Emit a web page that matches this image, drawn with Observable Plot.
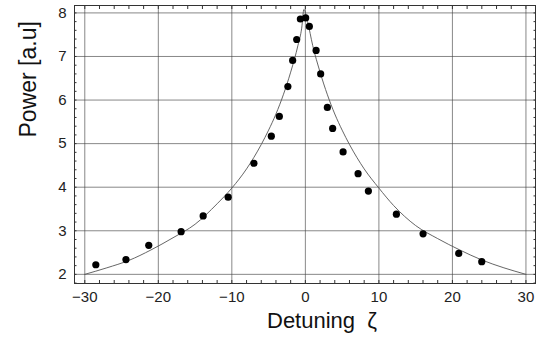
<!DOCTYPE html>
<html>
<head>
<meta charset="utf-8">
<script src="https://cdn.jsdelivr.net/npm/d3@7"></script>
<script src="https://cdn.jsdelivr.net/npm/@observablehq/plot@0.6"></script>
<style>
  html, body { margin: 0; padding: 0; background: #fff; }
  svg { display: block; }
</style>
</head>
<body>
<div id="chart"></div>
<script>
// Measured points
const measX = [-28.5, -24.4, -21.3, -16.9, -13.9, -10.5, -7.0, -4.63, -3.54, -2.38, -1.73, -1.18, -0.68, 0.04, 0.54, 1.46, 2.08, 2.99, 3.71, 5.13, 7.17, 8.57, 12.38, 16.01, 20.86, 23.99];
const measY = [2.22, 2.34, 2.665, 2.98, 3.34, 3.77, 4.55, 5.17, 5.625, 6.31, 6.91, 7.39, 7.86, 7.885, 7.69, 7.14, 6.60, 5.83, 5.35, 4.81, 4.31, 3.91, 3.38, 2.93, 2.48, 2.29];
// Fitted curve
const fitX = [-30, -27, -24, -21, -18, -15, -12, -10, -8, -6, -5, -4, -3, -2, -1, -0.5, -0.2, 0.3, 1, 2, 3, 4, 5, 6, 8, 10, 12, 15, 18, 21, 24, 27, 30];
const fitY = [2.00, 2.15, 2.32, 2.56, 2.84, 3.15, 3.62, 3.98, 4.42, 4.98, 5.31, 5.68, 6.12, 6.64, 7.26, 7.65, 8.08, 7.80, 7.25, 6.64, 6.12, 5.68, 5.31, 4.98, 4.42, 3.98, 3.58, 3.12, 2.82, 2.56, 2.33, 2.15, 2.00];
// Ticks
const xTicks = [-30, -20, -10, 0, 10, 20, 30];
const yTicks = [2, 3, 4, 5, 6, 7, 8];
const xMinor = d3.range(-30, 31, 2);
const yMinor = d3.range(1.8, 8.2, 0.2).map(v => +v.toFixed(1));
const xLabel = "Detuning  ζ";
const yLabel = "Power [a.u]";

const points = measX.map((x, i) => ({x, y: measY[i]}));
const curve = fitX.map((x, i) => ({x, y: fitY[i]}));

const tickFont = "Liberation Sans, Arial, sans-serif";

const chart = Plot.plot({
  width: 550,
  height: 338,
  marginLeft: 74,
  marginRight: 15,
  marginTop: 5,
  marginBottom: 55,
  style: {background: "#fff", color: "#222"},
  x: {domain: [-31.4, 31.3]},
  y: {domain: [1.79, 8.17]},
  marks: [
    Plot.gridX(xTicks, {stroke: "#444", strokeOpacity: 0.8, strokeWidth: 0.8}),
    Plot.gridY(yTicks, {stroke: "#444", strokeOpacity: 0.8, strokeWidth: 0.8}),
    // inward minor/major ticks on all four sides
    Plot.axisX(xMinor, {anchor: "bottom", tickSize: -3, text: null, label: null, stroke: "#333"}),
    Plot.axisX(xMinor, {anchor: "top", tickSize: -3, text: null, label: null, stroke: "#333"}),
    Plot.axisY(yMinor, {anchor: "left", tickSize: -2.5, text: null, label: null, stroke: "#333"}),
    Plot.axisY(yMinor, {anchor: "right", tickSize: -2.5, text: null, label: null, stroke: "#333"}),
    Plot.axisX(xTicks, {anchor: "bottom", tickSize: 0, tickPadding: 8, label: null,
      fontSize: 15, fontFamily: tickFont, fill: "#222",
      tickFormat: d => d < 0 ? "\u2212" + Math.abs(d) : String(d)}),
    Plot.axisY(yTicks, {anchor: "left", tickSize: 0, tickPadding: 8, label: null,
      fontSize: 15, fontFamily: tickFont, fill: "#222"}),
    Plot.frame({stroke: "#333", strokeWidth: 1}),
    Plot.line(curve, {x: "x", y: "y", curve: "monotone-x", stroke: "#555", strokeWidth: 0.9}),
    Plot.dot(points, {x: "x", y: "y", r: 3.6, fill: "#000", stroke: "none"}),
    Plot.text([xLabel], {frameAnchor: "bottom", dx: 17, dy: 44, text: d => d,
      fontSize: 22, fontFamily: "Liberation Sans, Arial, sans-serif", fill: "#111"}),
    Plot.text([yLabel], {frameAnchor: "left", dx: -46, dy: -7, rotate: -90, text: d => d,
      fontSize: 23, fontFamily: "Liberation Sans, Arial, sans-serif", fill: "#111"})
  ]
});
document.getElementById("chart").appendChild(chart);
</script>
</body>
</html>
